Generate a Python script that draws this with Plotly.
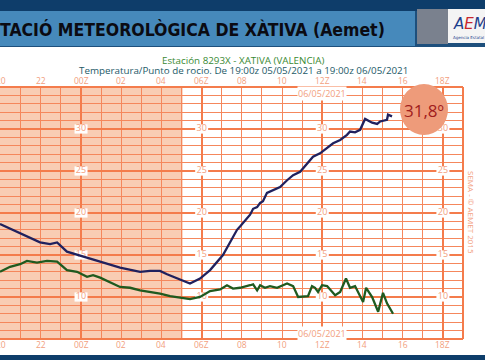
import plotly.graph_objects as go

# ---- data (hours relative to 00Z 06/05/2021) ----
temp_h = [-4.03, -3.03, -2.04, -1.54, -1.19, -0.70, 0.10, 0.60, 0.95, 1.94, 2.94, 3.43, 3.93, 4.28,
          4.93, 5.42, 5.92, 6.42, 7.06, 7.41, 7.76, 7.91, 8.26, 8.41, 8.56, 8.76, 8.91, 9.05, 9.25,
          9.55, 9.90, 10.25, 10.55, 10.90, 11.24, 11.54, 11.89, 12.24, 12.54, 12.89, 13.23, 13.38,
          13.63, 13.88, 14.13, 14.48, 14.73, 14.88, 15.22, 15.27, 15.47]
temp_v = [18.7, 17.6, 16.5, 16.3, 16.5, 15.4, 14.8, 14.4, 14.2, 13.5, 13.0, 13.1, 13.1, 12.7,
          12.1, 11.6, 12.2, 13.2, 15.0, 16.5, 18.0, 18.4, 19.4, 19.8, 20.5, 20.7, 21.2, 21.4, 22.4,
          22.7, 23.1, 23.9, 24.5, 24.9, 25.9, 26.7, 27.1, 27.7, 28.3, 28.7, 29.3, 29.7,
          29.6, 29.9, 31.2, 30.75, 30.6, 30.9, 31.1, 31.7, 31.5]

dew_h = [-4.03, -3.53, -3.03, -2.69, -2.19, -1.69, -1.19, -0.70, -0.20, 0.30, 0.60, 0.95, 1.94, 2.44,
         2.94, 3.93, 4.43, 4.93, 5.42, 5.92, 6.42, 6.92, 7.26, 7.56, 7.91, 8.41, 8.56, 8.76, 8.91,
         9.15, 9.40, 9.75, 10.05, 10.25, 10.55, 10.80, 11.29, 11.49, 11.64, 11.79, 11.99, 12.24,
         12.64, 12.89, 13.18, 13.38, 13.63, 13.88, 14.03, 14.18, 14.48, 14.78, 15.02, 15.22, 15.52]
dew_v = [13.0, 13.6, 13.9, 14.3, 14.1, 14.3, 14.2, 13.2, 13.0, 12.4, 12.6, 12.3, 11.2, 11.1,
         10.8, 10.4, 10.1, 9.95, 9.75, 10.0, 10.7, 10.9, 11.4, 11.0, 11.1, 11.4, 11.5, 10.8, 11.4,
         11.1, 11.3, 11.1, 11.35, 11.6, 11.3, 10.0, 10.1, 11.3, 11.1, 10.6, 11.4, 11.3,
         10.2, 10.6, 12.2, 11.1, 11.3, 10.2, 9.4, 11.1, 10.0, 8.25, 10.5, 9.25, 8.0]

x_tick_vals = [-4, -2, 0, 2, 4, 6, 8, 10, 12, 14, 16, 18]
x_tick_text = ["20", "22", "00Z", "02", "04", "06Z", "08", "10", "12Z", "14", "16", "18Z"]
y_label_vals = [10, 15, 20, 25, 30]
y_label_cols = [0, 6, 12, 18]
night_end = 5.06
last_temp_text = "31,8º"

X0, X1 = -4.03, 19.0
Y0, Y1 = 5.0, 35.0

W, H = 485, 360
ML, MR, MT, MB = 0, 22, 87, 21
PW, PH = W - ML - MR, H - MT - MB


def px(xp):
    return (xp - ML) / PW


def py(yp):
    return (H - MB - yp) / PH


GRID = "#F47C4C"
GRID_MINOR = "#F5875C"
LABEL = "#F2A07E"
SHADE = "#F9CDB4"

fig = go.Figure()

# y labels (text under the lines)
lab_x, lab_y, lab_t = [], [], []
for c in y_label_cols:
    for v in y_label_vals:
        lab_x.append(c)
        lab_y.append(v)
        lab_t.append(str(v))
fig.add_trace(go.Scatter(x=lab_x, y=lab_y, text=lab_t, mode="text",
                         textfont=dict(family="Open Sans", size=9, color=LABEL),
                         hoverinfo="skip", showlegend=False))

fig.add_trace(go.Scatter(x=dew_h, y=dew_v, mode="lines",
                         line=dict(color="#1F5A1F", width=2.3), showlegend=False))
fig.add_trace(go.Scatter(x=temp_h, y=temp_v, mode="lines",
                         line=dict(color="#20215E", width=2.3), showlegend=False))

shapes = []
# night shading
shapes.append(dict(type="rect", xref="x", yref="y", x0=X0, x1=night_end, y0=Y0, y1=Y1,
                   fillcolor=SHADE, line=dict(width=0), layer="below"))
# white boxes behind y labels
bw = 6.5 * (X1 - X0) / PW
bh = 4.6 * (Y1 - Y0) / PH
for c in y_label_cols:
    for v in y_label_vals:
        shapes.append(dict(type="rect", xref="x", yref="y", x0=c - bw, x1=c + bw,
                           y0=v - bh, y1=v + bh, fillcolor="white",
                           line=dict(width=0), layer="between"))
# borders
shapes.append(dict(type="line", xref="paper", yref="paper", x0=1, x1=1, y0=0, y1=1,
                   line=dict(color=GRID, width=2)))
shapes.append(dict(type="line", xref="paper", yref="paper", x0=0, x1=1, y0=1, y1=1,
                   line=dict(color=GRID, width=2)))
shapes.append(dict(type="line", xref="paper", yref="paper", x0=0, x1=1, y0=0, y1=0,
                   line=dict(color=GRID, width=2)))
# circle
shapes.append(dict(type="circle", xref="paper", yref="paper",
                   x0=px(400), x1=px(448), y0=py(84), y1=py(135),
                   fillcolor="#EE9B7A", line=dict(width=0), layer="above"))
# header bars
shapes.append(dict(type="rect", xref="paper", yref="paper", x0=px(0), x1=px(485),
                   y0=py(0), y1=py(11), fillcolor="#0E3D6A", line=dict(width=0)))
shapes.append(dict(type="rect", xref="paper", yref="paper", x0=px(0), x1=px(485),
                   y0=py(11), y1=py(47), fillcolor="#1D4F7C", line=dict(width=0)))
shapes.append(dict(type="rect", xref="paper", yref="paper", x0=px(0), x1=px(415),
                   y0=py(11), y1=py(46), fillcolor="#4689BB", line=dict(width=0)))
shapes.append(dict(type="rect", xref="paper", yref="paper", x0=px(417), x1=px(448),
                   y0=py(9), y1=py(44), fillcolor="#7A818E", line=dict(width=0)))
shapes.append(dict(type="rect", xref="paper", yref="paper", x0=px(448), x1=px(485),
                   y0=py(9), y1=py(43), fillcolor="#F4F4F4", line=dict(width=0)))
# bottom strip
shapes.append(dict(type="rect", xref="paper", yref="paper", x0=px(0), x1=px(485),
                   y0=py(355), y1=py(360), fillcolor="#0E3D6A", line=dict(width=0)))

ann = []
for v, t in zip(x_tick_vals, x_tick_text):
    for yy in (80, 344):
        ann.append(dict(x=v, y=py(yy), xref="x", yref="paper", text=t, showarrow=False,
                        font=dict(family="Open Sans", size=8.5, color=LABEL),
                        borderpad=0, xanchor="center", yanchor="middle"))
for yy in (93, 333):
    ann.append(dict(x=12, y=py(yy), xref="x", yref="paper", text="06/05/2021", showarrow=False,
                    font=dict(family="Open Sans", size=9, color=LABEL), bgcolor="white",
                    borderpad=0, xanchor="center", yanchor="middle"))
ann.append(dict(x=px(424), y=py(110), xref="paper", yref="paper", text=last_temp_text,
                showarrow=False, font=dict(family="Open Sans", size=17, color="#A11D1D"),
                xanchor="center", yanchor="middle"))
ann.append(dict(x=px(472), y=py(212), xref="paper", yref="paper", text="SEMA - © AEMET 2015",
                showarrow=False, textangle=90,
                font=dict(family="Open Sans", size=8, color=LABEL),
                xanchor="center", yanchor="middle"))
ann.append(dict(x=px(243), y=py(61), xref="paper", yref="paper",
                text="Estación 8293X - XATIVA (VALENCIA)", showarrow=False,
                font=dict(family="Open Sans", size=9.8, color="#3A8A33"),
                borderpad=0, xanchor="center", yanchor="middle"))
ann.append(dict(x=px(243), y=py(70.5), xref="paper", yref="paper",
                text="Temperatura/Punto de rocio. De 19:00z 05/05/2021 a 19:00z 06/05/2021",
                showarrow=False, font=dict(family="Open Sans", size=9.8, color="#1D5A68"),
                borderpad=0, xanchor="center", yanchor="middle"))
ann.append(dict(x=px(-2), y=py(30), xref="paper", yref="paper",
                text="<b>TACIÓ METEOROLÒGICA DE XÀTIVA (Aemet)</b>", showarrow=False,
                font=dict(family="Liberation Sans Narrow, DejaVu Sans Condensed, Roboto",
                          size=17.5, color="#0B0B12"),
                xanchor="left", yanchor="middle"))
ann.append(dict(x=px(451), y=py(24), xref="paper", yref="paper",
                text="<i><span style='color:#1D3E8C'>A</span><span style='color:#C8262C'>E</span>"
                     "<span style='color:#1D3E8C'>M</span></i>",
                showarrow=False, font=dict(family="DejaVu Sans", size=15),
                xanchor="left", yanchor="middle"))
ann.append(dict(x=px(451), y=py(37), xref="paper", yref="paper",
                text="Agencia Estatal", showarrow=False,
                font=dict(family="DejaVu Sans", size=4, color="#1D3E8C"),
                xanchor="left", yanchor="middle"))

fig.update_layout(
    width=W, height=H, margin=dict(l=ML, r=MR, t=MT, b=MB),
    paper_bgcolor="white", plot_bgcolor="white",
    shapes=shapes, annotations=ann, showlegend=False,
    xaxis=dict(range=[X0, X1], tick0=0, dtick=6, showgrid=True, gridcolor=GRID, gridwidth=2,
               minor=dict(tick0=0, dtick=1, showgrid=True, gridcolor=GRID_MINOR, gridwidth=1.4),
               showticklabels=False, zeroline=False, showline=False, ticks=""),
    yaxis=dict(range=[Y0, Y1], tick0=0, dtick=5, showgrid=True, gridcolor=GRID, gridwidth=2,
               minor=dict(tick0=0, dtick=1, showgrid=True, gridcolor=GRID_MINOR, gridwidth=1.4),
               showticklabels=False, zeroline=False, showline=False, ticks=""),
)

fig.write_html("out.html", config={"displayModeBar": False},
               post_script="document.body.style.margin='0';document.body.style.overflow='hidden';")
